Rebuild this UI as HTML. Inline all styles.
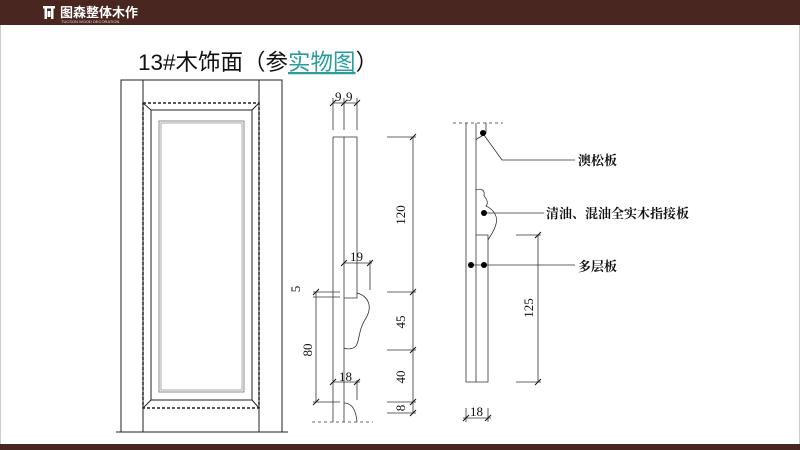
<!DOCTYPE html>
<html><head><meta charset="utf-8"><style>
html,body{margin:0;padding:0;background:#fff;}
body{width:800px;height:450px;overflow:hidden;position:relative;font-family:"Liberation Sans","Noto Sans CJK SC",sans-serif;}
</style></head><body>
<svg width="800" height="450" viewBox="0 0 800 450" xmlns="http://www.w3.org/2000/svg" style="position:absolute;left:0;top:0">
<rect x="0" y="0" width="800" height="25" fill="#4a2620"/>
<rect x="0" y="444" width="800" height="6" fill="#4a2620"/>
<line x1="0.5" y1="25" x2="0.5" y2="444" stroke="#ccc"/>
<line x1="799.5" y1="25" x2="799.5" y2="444" stroke="#ccc"/>
<!-- logo -->
<g fill="#fff"><rect x="43" y="6" width="12" height="2.5"/><rect x="44.5" y="8" width="2.5" height="11"/><rect x="51" y="8" width="2.5" height="11"/><rect x="47.5" y="11" width="3" height="6"/></g>
<text x="60" y="17" font-size="13" fill="#fff" font-family="'Noto Sans CJK SC',sans-serif" font-weight="bold">图森整体木作</text>
<text x="61" y="23" font-size="4" fill="#ddd">TUCSON WOOD DECORATION</text>
<!-- title -->
<text x="138" y="70" font-size="22.5" fill="#111" font-family="'Liberation Sans','Noto Sans CJK SC',sans-serif">13#木饰面（参<tspan fill="#2a9d9a" text-decoration="underline">实物图</tspan>）</text>
<!-- door -->
<g stroke="#222" fill="none" stroke-width="1">
<path d="M121,432 V80 H282 V432"/>
<line x1="116" y1="432" x2="288" y2="432"/>
<line x1="143" y1="80" x2="143" y2="432"/>
<line x1="259" y1="80" x2="259" y2="432"/>
<rect x="143" y="103" width="116" height="305" stroke-dasharray="3,2" stroke-width="1.5"/>
<rect x="151" y="110" width="101" height="290"/>
<line x1="143" y1="103" x2="151" y2="110"/><line x1="259" y1="103" x2="252" y2="110"/>
<line x1="143" y1="408" x2="151" y2="400"/><line x1="259" y1="408" x2="252" y2="400"/>
</g>
<rect x="159" y="121" width="85" height="271" fill="none" stroke="#888" stroke-width="1"/>
<rect x="161" y="123" width="81" height="267" fill="none" stroke="#aaa" stroke-width="1"/>
<!-- middle detail -->
<g stroke="#333" fill="none" stroke-width="0.8">
<line x1="333" y1="137" x2="333" y2="422"/>
<line x1="344" y1="137" x2="344" y2="422"/>
<path d="M333,137 H357 V298 H344"/>
<line x1="312" y1="422" x2="373" y2="422" stroke-dasharray="3,3"/>
<path d="M357,293 C368,296 373,306 366,318 C358,330 360,340 356,346 C352,350 346,349 344,348"/>
<path d="M344,403 C352,403 356,410 357,422"/>
<line x1="333" y1="103" x2="357" y2="103"/>
<line x1="333" y1="98" x2="333" y2="130"/><line x1="344" y1="98" x2="344" y2="130"/><line x1="357" y1="98" x2="357" y2="130"/>
<line x1="344" y1="263" x2="372" y2="263"/><line x1="370" y1="260" x2="370" y2="290"/>
<line x1="333" y1="382" x2="360" y2="382"/><line x1="357" y1="380" x2="357" y2="400"/>
<line x1="316" y1="292" x2="316" y2="402"/>
<line x1="313" y1="292" x2="340" y2="292"/><line x1="313" y1="402" x2="340" y2="402"/>
<line x1="313" y1="297" x2="340" y2="297"/>
<line x1="413" y1="137" x2="413" y2="413"/>
<line x1="387" y1="137" x2="416" y2="137"/><line x1="387" y1="292" x2="416" y2="292"/>
<line x1="387" y1="350" x2="416" y2="350"/><line x1="387" y1="402" x2="416" y2="402"/><line x1="387" y1="413" x2="416" y2="413"/>
</g>
<g stroke="#111" stroke-width="1">
<line x1="330" y1="106" x2="336" y2="100"/><line x1="341" y1="106" x2="347" y2="100"/><line x1="354" y1="106" x2="360" y2="100"/>
<line x1="410" y1="140" x2="416" y2="134"/><line x1="410" y1="295" x2="416" y2="289"/><line x1="410" y1="353" x2="416" y2="347"/><line x1="410" y1="405" x2="416" y2="399"/><line x1="410" y1="416" x2="416" y2="410"/>
<line x1="313" y1="295" x2="319" y2="289"/><line x1="313" y1="405" x2="319" y2="399"/>
<line x1="341" y1="266" x2="347" y2="260"/><line x1="367" y1="266" x2="373" y2="260"/>
<line x1="330" y1="385" x2="336" y2="379"/><line x1="354" y1="385" x2="360" y2="379"/>
</g>
<g font-family="'Liberation Serif',serif" font-size="13" fill="#111">
<text x="335" y="101">9</text><text x="346" y="101">9</text>
<text x="350" y="261">19</text>
<text x="339" y="381">18</text>
<text transform="translate(405,215) rotate(-90)" text-anchor="middle">120</text>
<text transform="translate(405,322) rotate(-90)" text-anchor="middle">45</text>
<text transform="translate(405,377) rotate(-90)" text-anchor="middle">40</text>
<text transform="translate(405,408) rotate(-90)" text-anchor="middle">8</text>
<text transform="translate(312,350) rotate(-90)" text-anchor="middle">80</text>
<text transform="translate(300,289) rotate(-90)" text-anchor="middle">5</text>
</g>
<!-- right detail -->
<g stroke="#333" fill="none" stroke-width="0.8">
<line x1="453" y1="123" x2="503" y2="123" stroke-dasharray="3,3"/>
<line x1="466" y1="123" x2="466" y2="382"/>
<line x1="476" y1="123" x2="476" y2="382"/>
<path d="M476,235 H488 V382 H466"/>
<path d="M486,123 V133 C484,136 478,137 476,140"/>
<path d="M476,190 C482,188 485,190 484,196 C488,200 488,204 486,206 C495,210 498,218 496,224 C494,232 490,236 488,240"/>
<polyline points="484,135 502,160 575,160"/>
<line x1="486" y1="213" x2="544" y2="213"/>
<line x1="471" y1="265" x2="575" y2="265"/>
<line x1="538" y1="235" x2="538" y2="382"/>
<line x1="516" y1="235" x2="541" y2="235"/><line x1="516" y1="382" x2="541" y2="382"/>
<line x1="466" y1="408" x2="466" y2="422"/><line x1="488" y1="408" x2="488" y2="422"/>
<line x1="463" y1="418" x2="491" y2="418"/>
</g>
<g stroke="#111" stroke-width="1">
<line x1="535" y1="238" x2="541" y2="232"/><line x1="535" y1="385" x2="541" y2="379"/>
<line x1="463" y1="421" x2="469" y2="415"/><line x1="485" y1="421" x2="491" y2="415"/>
</g>
<g fill="#000"><circle cx="483" cy="133" r="3"/><circle cx="484" cy="213" r="3"/><circle cx="471" cy="265" r="3"/><circle cx="484" cy="265" r="3"/></g>
<g font-family="'Noto Serif CJK SC','Noto Sans CJK SC',serif" font-size="13" font-weight="bold" fill="#111">
<text x="578" y="165">澳松板</text>
<text x="546" y="218">清油、混油全实木指接板</text>
<text x="578" y="271">多层板</text>
</g>
<g font-family="'Liberation Serif',serif" font-size="13" fill="#111">
<text transform="translate(533,308) rotate(-90)" text-anchor="middle">125</text>
<text x="470" y="416">18</text>
</g>
</svg>
</body></html>
